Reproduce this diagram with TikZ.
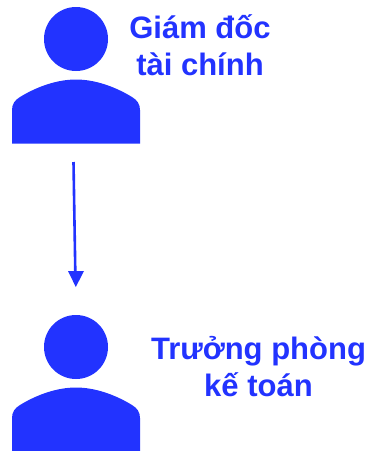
\documentclass[tikz,border=0pt]{standalone}
\usepackage{fontspec}
\setmainfont{Liberation Sans}
\definecolor{pb}{HTML}{2233FF}
\tikzset{lbl/.style={text=pb,font=\fontsize{31}{37}\selectfont\bfseries,align=center,inner sep=0pt},
pfill/.style={fill=pb,draw=none},
conn/.style={draw=pb,line width=2.6pt},
tipf/.style={fill=pb,draw=none}}
\newcommand{\person}[2]{
\fill[pfill] (#1+64,#2+39) circle (32);
\fill[pfill] (#1,#2+143.5) -- (#1,#2+110) .. controls (#1,#2+104) and (#1+3,#2+100) .. (#1+8,#2+97) .. controls (#1+26,#2+86) and (#1+46,#2+79.5) .. (#1+64,#2+79.5) .. controls (#1+82,#2+79.5) and (#1+102,#2+86) .. (#1+120,#2+97) .. controls (#1+125,#2+100) and (#1+128,#2+104) .. (#1+128,#2+110) -- (#1+128,#2+143.5) -- cycle;
}
\begin{document}
\begin{tikzpicture}[x=1pt,y=-1pt]
\useasboundingbox (0,0) rectangle (373,451);
\fill[white] (0,0) rectangle (373,451);
\person{12}{0}
\person{12}{308}
\node[lbl] (a) at (200,45.5) {Giám đốc\\tài chính};
\node[lbl] (b) at (258.5,366.5) {Trưởng phòng\\kế toán};
\coordinate (s) at (73.5,162);
\coordinate (e) at (75.3,272);
\draw[conn] (s) -- (e);
\fill[tipf] (75.8,287) -- (68,271) -- (84,271) -- cycle;
\end{tikzpicture}
\end{document}
